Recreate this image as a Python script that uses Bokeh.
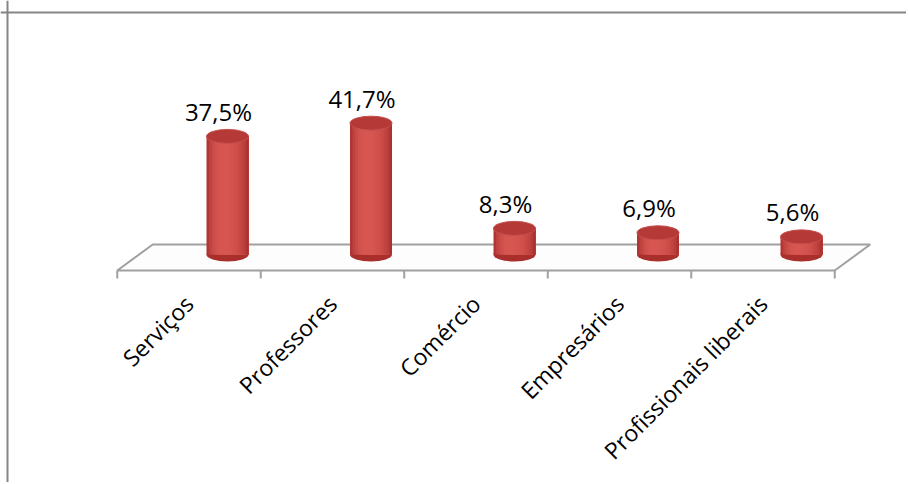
from bokeh.plotting import figure
from bokeh.models import ColumnDataSource, Range1d, Span
from bokeh.core.properties import value
from bokeh.embed import file_html
from bokeh.resources import INLINE
import math

# ---- data ----
categories = ["Serviços", "Professores", "Comércio", "Empresários", "Profissionais liberais"]
percentages = [37.5, 41.7, 8.3, 6.9, 5.6]

# ---- layout constants (pixels) ----
W, H = 906, 482
CAT_PX = 143.5          # pixels per category step
PCT_PX = 3.15           # pixels per percentage point
X0_PX = 227             # canvas x of first cylinder axis
Y0_PX = 254             # canvas y of value 0 (bottom ellipse centre)

def dx(px):
    return px / CAT_PX

def dy(px):
    return px / PCT_PX

n = len(categories)
idx = list(range(n))

p = figure(width=W, height=H, output_backend="svg", toolbar_location=None,
           x_axis_type=None, y_axis_type=None,
           x_range=Range1d(-X0_PX / CAT_PX, (W - X0_PX) / CAT_PX),
           y_range=Range1d(-(H - Y0_PX) / PCT_PX, Y0_PX / PCT_PX),
           min_border=0, min_border_left=0, min_border_right=0,
           min_border_top=0, min_border_bottom=0)
p.outline_line_color = None
p.grid.visible = False
p.background_fill_color = "white"

# ---- chart border (top and left visible) ----
p.add_layout(Span(location=dy(Y0_PX - 12), dimension="width", line_color="#868686", line_width=2))
p.add_layout(Span(location=dx(7 - X0_PX), dimension="height", line_color="#868686", line_width=2))

# ---- floor ----
front_v = dy(-16)
back_v = dy(10)
front_off = dx(-38.5)
back_off = dx(-3)
fl = -0.5 + front_off
fr = n - 0.5 + front_off
bl = -0.5 + back_off
br = n - 0.5 + back_off
p.patch([fl, fr, br, bl], [front_v, front_v, back_v, back_v],
        fill_color="#FDFDFD", line_color="#A0A0A0", line_width=2)

# ticks at category boundaries on the front edge
tick_x = [k - 0.5 + front_off for k in range(n + 1)]
p.segment(x0=tick_x, y0=[front_v] * (n + 1), x1=tick_x, y1=[front_v - dy(8)] * (n + 1),
          line_color="#A0A0A0", line_width=2)

# ---- cylinders ----
src = ColumnDataSource(dict(x=idx, v=percentages, zero=[0] * n,
                            lbl=[f"{v:.1f}".replace(".", ",") + "%" for v in percentages],
                            cat=categories,
                            lx=[i + dx(-9) for i in idx],
                            cx=[i + front_off for i in idx],
                            cy=[front_v] * n))

half_w_px = 21
p.ellipse(x="x", y="zero", width=2 * half_w_px, height=14,
          width_units="screen", height_units="screen",
          source=src, fill_color="#A92F2D", line_color=None)

dark = (0x9E, 0x26, 0x26)
light = (0xD8, 0x57, 0x52)
N_STRIPS = 16
sw = 2 * half_w_px / N_STRIPS
for k in range(N_STRIPS):
    t = (k + 0.5) / N_STRIPS
    if t < 0.4:
        f = 1 - ((0.4 - t) / 0.4) ** 2
    else:
        f = 1 - ((t - 0.4) / 0.6) ** 2
    f = max(0.0, f) ** 0.6
    col = "#%02x%02x%02x" % tuple(int(d + (l - d) * f) for d, l in zip(dark, light))
    left = [i + dx(-half_w_px + k * sw) for i in idx]
    right = [i + dx(half_w_px) for i in idx]
    p.quad(left=left, right=right, bottom=[0] * n, top=percentages,
           fill_color=col, line_color=None)

p.ellipse(x="x", y="v", width=2 * half_w_px, height=14,
          width_units="screen", height_units="screen",
          source=src, fill_color="#B53A37", line_color="#C4504C", line_width=1)

# ---- value labels ----
p.text(x="lx", y="v", text="lbl", source=src, y_offset=-25,
       text_font=value("Open Sans"), text_font_size="24px", text_color="black",
       text_align="center", text_baseline="alphabetic")

# ---- category labels (rotated) ----
p.text(x="cx", y="cy", text="cat", source=src, angle=math.pi / 4,
       x_offset=0, y_offset=29,
       text_font=value("Open Sans"), text_font_size="23px", text_color="black",
       text_align="right", text_baseline="middle")

open("out.html", "w").write(file_html(p, INLINE))
